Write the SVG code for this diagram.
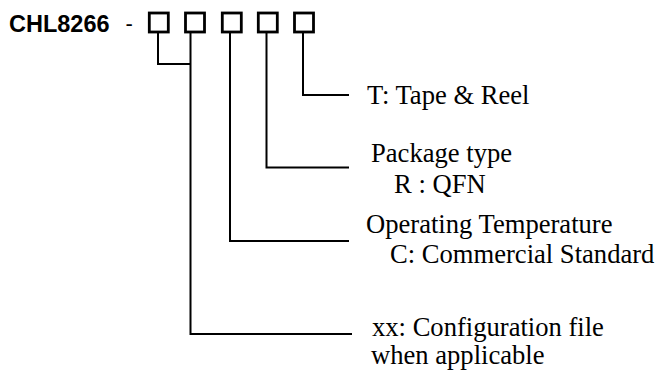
<svg xmlns="http://www.w3.org/2000/svg" width="657" height="371" viewBox="0 0 657 371">
<style>
.t{font-family:"Liberation Serif","Times New Roman",serif;font-size:26.6px;fill:#000}
.b{font-family:"Liberation Sans",Arial,sans-serif;font-weight:bold;font-size:23.5px;fill:#000}
.d{font-family:"Liberation Sans",Arial,sans-serif;font-size:22px;fill:#000}
.box{fill:none;stroke:#000;stroke-width:2.8}
.ln{fill:none;stroke:#000;stroke-width:2}
</style>
<rect width="657" height="371" fill="#fff"/>
<g id="title">
<text class="b" x="9" y="32">CHL8266</text>
<text class="d" x="125.5" y="31">-</text>
</g>
<g id="box1"><rect class="box" x="149.3" y="13" width="19" height="19"/></g>
<g id="box2"><rect class="box" x="185.5" y="13" width="19" height="19"/></g>
<g id="box3"><rect class="box" x="222.3" y="13" width="19" height="19"/></g>
<g id="box4"><rect class="box" x="258.3" y="13" width="19" height="19"/></g>
<g id="box5"><rect class="box" x="294.5" y="13" width="19" height="19"/></g>
<g id="connectors">
<path class="ln" d="M158 33 V64 H190.5"/>
<path class="ln" d="M190.5 33 V334 H352"/>
<path class="ln" d="M230 33 V241 H349"/>
<path class="ln" d="M266.5 33 V167.5 H349"/>
<path class="ln" d="M303 33 V95 H349"/>
</g>
<g id="label-tape"><text class="t" x="367" y="104">T: Tape &amp; Reel</text></g>
<g id="label-package"><text class="t" x="371" y="162">Package type</text><text class="t" x="394" y="193">R : QFN</text></g>
<g id="label-temp"><text class="t" x="366" y="233">Operating Temperature</text><text class="t" x="390" y="263">C: Commercial Standard</text></g>
<g id="label-config"><text class="t" x="372" y="336">xx: Configuration file</text><text class="t" x="371" y="364">when applicable</text></g>
</svg>
